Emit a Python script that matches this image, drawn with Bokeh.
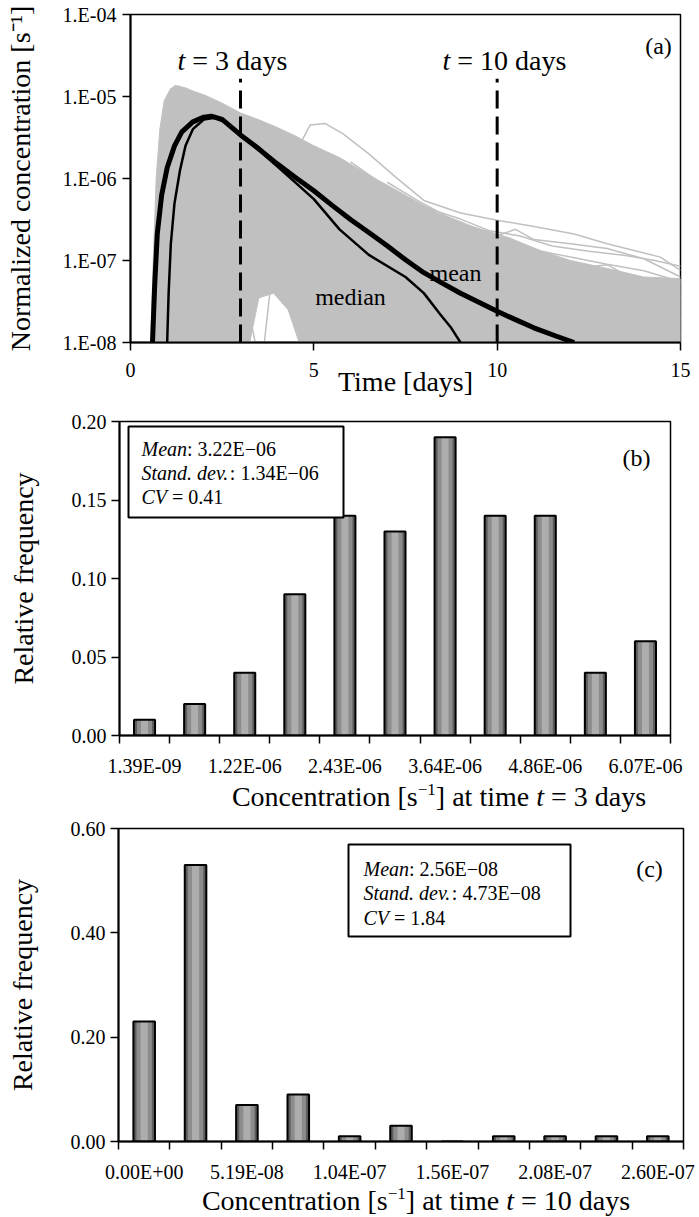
from bokeh.plotting import figure
from bokeh.models import (FixedTicker, CustomJSTickFormatter, PrintfTickFormatter,
                          Label, BoxAnnotation, Div)
from bokeh.embed import file_html
from bokeh.resources import INLINE

# ---------------- data: panel (a) ----------------
marker_days = [3, 10]
marker_top = [1.65e-5, 1.65e-5]
marker_bottom = [1e-8, 1e-8]

mean_t = [0.60, 0.66, 0.73, 0.85, 1.0, 1.2, 1.4, 1.7, 2.0, 2.2, 2.5, 3.0, 3.5, 4.0, 4.5,
          5.0, 5.5, 6.0, 6.5, 7.0, 7.5, 8.0, 8.5, 9.0, 9.5, 10.0, 10.5, 11.0, 11.6, 12.1]
mean_c = [1.0e-8, 5.0e-8, 2.1e-7, 6.3e-7, 1.35e-6, 2.5e-6, 3.7e-6, 4.9e-6, 5.6e-6, 5.75e-6,
          5.25e-6, 3.4e-6, 2.3e-6, 1.51e-6, 1.03e-6, 7.1e-7, 4.7e-7, 3.16e-7, 2.2e-7, 1.51e-7,
          1.02e-7, 7.1e-8, 5.3e-8, 3.98e-8, 3.1e-8, 2.4e-8, 1.9e-8, 1.51e-8, 1.2e-8, 1.0e-8]

median_t = [1.0, 1.04, 1.1, 1.2, 1.35, 1.5, 1.7, 2.0, 2.3, 2.6, 3.0, 3.5, 4.0, 4.5, 5.0,
            5.7, 6.5, 7.5, 8.0, 8.45, 8.75, 9.0]
median_c = [1.0e-8, 4.0e-8, 1.6e-7, 5.0e-7, 1.26e-6, 2.5e-6, 4.0e-6, 5.25e-6, 5.5e-6, 4.8e-6,
            3.4e-6, 2.2e-6, 1.41e-6, 8.9e-7, 5.6e-7, 2.4e-7, 1.17e-7, 6.3e-8, 4.0e-8, 2.2e-8,
            1.5e-8, 1.0e-8]

band_upper_t = [0.55, 0.62, 0.7, 0.8, 0.92, 1.1, 1.3, 1.6, 2.0, 2.5, 3.0, 3.5, 4.0, 4.5, 5.0,
                5.7, 6.5, 7.3, 8.4, 9.2, 10.0, 11.0, 12.0, 13.0, 14.0, 15.0]
band_upper_c = [1.0e-8, 1.0e-7, 1.0e-6, 4.0e-6, 8.9e-6, 1.26e-5, 1.35e-5, 1.2e-5, 1.05e-5,
                8.3e-6, 6.3e-6, 5.2e-6, 4.2e-6, 3.3e-6, 2.5e-6, 1.8e-6, 1.1e-6, 7.0e-7,
                3.7e-7, 2.7e-7, 2.1e-7, 1.4e-7, 1.0e-7, 8.0e-8, 6.3e-8, 6.0e-8]
band_lower_t = [15.0, 4.6, 4.3, 3.9, 3.5, 3.25, 0.55]
band_lower_c = [1.0e-8, 1.0e-8, 2.5e-8, 4.0e-8, 3.5e-8, 1.0e-8, 1.0e-8]

gray_t = [
    [3.65, 3.8, 4.0, 4.3, 4.6, 4.9, 5.3, 5.8, 6.5, 7.2, 8.0, 9.0, 10.0, 11.0, 12.1, 13.0, 14.45, 15.0],
    [5.0, 6.0, 7.0, 8.0, 9.0, 10.0, 10.5, 11.0, 12.0, 13.0, 14.0, 15.0],
    [8, 9, 10, 11, 12, 13, 14, 15],
    [9, 10, 11, 11.5, 12, 13, 14, 15],
    [10, 11, 12, 13, 14, 15],
    [11, 12, 13, 14, 15],
    [1.2, 1.6, 2.0, 2.4, 2.8, 3.1],
    [1.5, 2.0, 2.5, 3.0, 3.4],
    [2.1, 2.2, 2.35, 2.6, 3.0],
    [2.5, 2.7, 2.9, 3.05],
    [4.5, 5.0, 5.5, 6.0, 6.5],
    [0.7, 0.8, 0.9, 1.0, 1.2, 1.5, 2.0, 2.5, 3.0, 3.5, 4.0, 4.5, 5.0, 5.5],
    [6.0, 6.8, 7.5, 8.2, 9.0, 9.8, 10.6, 11.5, 12.5, 13.5, 14.3, 15.0],
    [7.0, 7.8, 8.6, 9.5, 10.3, 11.2, 12.0, 13.0, 14.0, 15.0],
]
gray_c = [
    [1.0e-8, 4.0e-8, 1.6e-7, 7.9e-7, 2.5e-6, 4.5e-6, 4.7e-6, 3.5e-6, 2.0e-6, 1.07e-6, 5.4e-7,
     3.8e-7, 3.1e-7, 2.6e-7, 2.1e-7, 1.6e-7, 1.1e-7, 7.6e-8],
    [2.5e-6, 1.4e-6, 7.9e-7, 4.5e-7, 2.8e-7, 2.0e-7, 2.4e-7, 1.8e-7, 1.6e-7, 1.4e-7, 1.05e-7, 6.3e-8],
    [2.5e-7, 1.6e-7, 1.26e-7, 1.0e-7, 7.9e-8, 8.9e-8, 5.0e-8, 3.5e-8],
    [1.6e-7, 1.0e-7, 7.1e-8, 1.0e-7, 5.0e-8, 4.0e-8, 3.2e-8, 2.5e-8],
    [6.3e-8, 4.5e-8, 3.5e-8, 3.2e-8, 2.5e-8, 2.0e-8],
    [2.5e-8, 2.0e-8, 1.8e-8, 1.4e-8, 1.26e-8],
    [1.0e-5, 5.0e-6, 1.6e-6, 3.2e-7, 5.0e-8, 1.0e-8],
    [7.9e-6, 3.2e-6, 6.3e-7, 7.9e-8, 1.0e-8],
    [1.0e-8, 1.0e-7, 5.0e-7, 1.6e-6, 3.2e-6],
    [6.3e-7, 1.6e-7, 3.2e-8, 1.0e-8],
    [1.6e-7, 6.3e-8, 3.2e-8, 1.6e-8, 1.0e-8],
    [1.0e-8, 3.2e-7, 3.2e-6, 8.9e-6, 1.35e-5, 1.26e-5, 1.0e-5, 7.1e-6, 5.0e-6, 3.2e-6, 1.8e-6,
     1.0e-6, 5.0e-7, 2.5e-7],
    [1.6e-6, 9.0e-7, 6.0e-7, 4.2e-7, 3.2e-7, 2.3e-7, 2.0e-7, 1.5e-7, 1.3e-7, 1.15e-7, 1.0e-7, 8.5e-8],
    [9.0e-7, 5.5e-7, 3.5e-7, 2.4e-7, 1.9e-7, 1.3e-7, 1.1e-7, 9.0e-8, 7.5e-8, 5.5e-8],
]

# ---------------- data: panel (b) ----------------
b_bins = ["1.39E-09", "6.08E-07", "1.22E-06", "1.82E-06", "2.43E-06", "3.03E-06",
          "3.64E-06", "4.25E-06", "4.86E-06", "5.46E-06", "6.07E-06"]
b_freq = [0.01, 0.02, 0.04, 0.09, 0.14, 0.13, 0.19, 0.14, 0.14, 0.04, 0.06]
b_yticks = [0.0, 0.05, 0.10, 0.15, 0.20]

# ---------------- data: panel (c) ----------------
c_bins = ["0.00E+00", "2.60E-08", "5.19E-08", "7.79E-08", "1.04E-07", "1.30E-07",
          "1.56E-07", "1.82E-07", "2.08E-07", "2.34E-07", "2.60E-07"]
c_freq = [0.23, 0.53, 0.07, 0.09, 0.01, 0.03, 0.0, 0.01, 0.01, 0.01, 0.01]
c_yticks = [0.0, 0.20, 0.40, 0.60]

# ---------------- styling helpers ----------------
FONT = "Liberation Serif"
GRAY = "#c0c0c0"
TNR = {' ': 250, '(': 333, ')': 333, '+': 564, ',': 250, '-': 333, '.': 250, ':': 278, '=': 564,
       'C': 667, 'E': 611, 'M': 889, 'N': 722, 'R': 667, 'S': 556, 'T': 611, 'V': 722, '[': 333,
       ']': 333, 'a': 444, 'b': 500, 'c': 444, 'd': 500, 'e': 444, 'f': 333, 'i': 278, 'l': 278,
       'm': 778, 'n': 500, 'o': 500, 'q': 500, 'r': 333, 's': 389, 't': 278, 'u': 500, 'v': 500,
       'y': 500, 'z': 444, '\u2212': 564}
TNRI = {' ': 250, '.': 250, 'M': 833, 'S': 500, 'C': 667, 'V': 611, 'e': 444, 'a': 500,
        'n': 500, 't': 278, 'd': 500, 'v': 444}


def tw(s, size, italic=False):
    tab = TNRI if italic else TNR
    return sum(tab.get(ch, 500) for ch in s) * size / 1000.0


def rich(p, x, y, parts, size, align="left"):
    """parts: list of (text, italic, dy, size_or_None)"""
    total = sum(tw(t, sz or size, it) for t, it, dy, sz in parts)
    off = 0.0 if align == "left" else -total / 2.0
    for t, it, dy, sz in parts:
        s = sz or size
        lead = len(t) - len(t.lstrip(" "))
        off += tw(" " * lead, s, it)
        core = t.strip(" ")
        if core:
            p.add_layout(Label(x=x, y=y, x_offset=off, y_offset=dy, text=core,
                               text_font=FONT, text_font_size=f"{s}px",
                               text_font_style="italic" if it else "normal",
                               text_baseline="middle", text_align="left", text_color="black"))
        off += tw(core, s, it)
        trail = len(t) - len(t.rstrip(" "))
        off += tw(" " * trail, s, it)


def style_axes(p, tick_out=8, label_standoff=8):
    for ax in p.axis:
        ax.axis_line_color = "black"
        ax.axis_line_width = 2
        ax.major_tick_line_color = "black"
        ax.major_tick_line_width = 1.5
        ax.major_tick_out = tick_out
        ax.major_tick_in = 0
        ax.minor_tick_line_color = None
        ax.major_label_text_font = FONT
        ax.major_label_text_font_size = "20px"
        ax.major_label_text_color = "black"
        ax.major_label_standoff = label_standoff
        ax.axis_label_text_font = FONT
        ax.axis_label_text_font_size = "28px"
        ax.axis_label_text_font_style = "normal"
        ax.axis_label_text_color = "black"
    p.grid.visible = False
    p.outline_line_color = "black"
    p.outline_line_width = 1.5
    p.background_fill_color = "white"
    p.border_fill_color = "white"


def title_strip(height, center_x, value_text):
    left = 2 * center_x - 699
    width = 699 - left
    html = (
        f'<div style="margin-left:{left}px; width:{width}px; height:{height}px; '
        f'line-height:{height}px; text-align:center; white-space:nowrap; '
        f'font-family:\'Liberation Serif\'; font-size:28px; color:#000;">'
        f'Concentration [s<span style="font-size:17px; position:relative; top:-11px;">'
        f'\u22121</span>] at time <i>t</i> = {value_text}</div>'
    )
    return Div(text=html, width=699, height=height, margin=0,
               styles={"overflow": "visible", "background": "white", "display": "block"})


# ---------------- panel (a) ----------------
A_L, A_T, A_W, A_H, A_FH = 130, 14, 550, 328, 405


def ax_(px):
    return (px - A_L) / A_W * 15.0


def ay_(py):
    return 10 ** (-4.0 - (py - A_T) / 82.0)


pa = figure(width=699, height=A_FH, x_range=(0, 15), y_range=(1e-8, 1e-4), y_axis_type="log",
            output_backend="svg", toolbar_location=None,
            min_border_left=A_L, min_border_right=699 - A_L - A_W,
            min_border_top=A_T, min_border_bottom=A_FH - A_T - A_H)
pa.patch(band_upper_t + band_lower_t, band_upper_c + band_lower_c,
         fill_color=GRAY, line_color=GRAY, line_width=1)
pa.multi_line(gray_t, gray_c, line_color=GRAY, line_width=1.5)
pa.segment(x0=marker_days, y0=marker_bottom, x1=marker_days, y1=marker_top,
           line_color="black", line_width=3, line_dash="18 8")
pa.line(median_t, median_c, line_color="black", line_width=2.5)
pa.line(mean_t, mean_c, line_color="black", line_width=5)

style_axes(pa, tick_out=8, label_standoff=12)
pa.xaxis.ticker = FixedTicker(ticks=[0, 5, 10, 15])
pa.xaxis.axis_label = "Time [days]"
pa.xaxis.axis_label_standoff = -14
pa.yaxis.ticker = FixedTicker(ticks=[1e-8, 1e-7, 1e-6, 1e-5, 1e-4])
pa.yaxis.formatter = CustomJSTickFormatter(
    code="const e = Math.round(-Math.log10(tick)); return '1.E-' + (e < 10 ? '0' : '') + e;")
pa.yaxis.axis_label = "Normalized concentration [s\u207b\u00b9]"
pa.yaxis.axis_label_standoff = 24
pa.yaxis.major_label_standoff = 6

rich(pa, ax_(177), ay_(60), [("t", True, 0, None), (" = 3 days", False, 0, None)], 28)
rich(pa, ax_(442), ay_(60), [("t", True, 0, None), (" = 10 days", False, 0, None)], 28)
rich(pa, ax_(658), ay_(45), [("(a)", False, 0, None)], 24, align="center")
rich(pa, ax_(455), ay_(272), [("mean", False, 0, None)], 24, align="center")
rich(pa, ax_(350), ay_(296), [("median", False, 0, None)], 24, align="center")


# ---------------- histogram helper ----------------
def histogram(freq, bins, yticks, fh, top, bottom, left, fw, ymax):
    p = figure(width=699, height=fh, x_range=(-0.5, 10.5), y_range=(0, ymax),
               output_backend="svg", toolbar_location=None,
               min_border_left=left, min_border_right=699 - left - fw,
               min_border_top=top, min_border_bottom=bottom)
    xs = list(range(len(freq)))
    p.vbar(x=xs, top=freq, width=0.42, fill_color="#5c5c5c", line_color=None)
    p.vbar(x=xs, top=freq, width=0.30, fill_color="#8c8c8c", line_color=None)
    p.vbar(x=xs, top=freq, width=0.14, fill_color="#adadad", line_color=None)
    p.vbar(x=xs, top=freq, width=0.42, fill_alpha=0, line_color="black", line_width=2)
    style_axes(p, tick_out=8, label_standoff=11)
    p.xaxis.ticker = FixedTicker(ticks=xs[::2], minor_ticks=[i - 0.5 for i in range(len(freq) + 1)])
    p.xaxis.major_label_overrides = {i: bins[i] for i in xs[::2]}
    p.xaxis.major_tick_line_color = None
    p.xaxis.minor_tick_line_color = "black"
    p.xaxis.minor_tick_line_width = 1.5
    p.xaxis.minor_tick_out = 8
    p.xaxis.minor_tick_in = 0
    p.yaxis.ticker = FixedTicker(ticks=yticks)
    p.yaxis.formatter = PrintfTickFormatter(format="%.2f")
    p.yaxis.major_label_standoff = 5
    p.yaxis.axis_label = "Relative frequency"
    p.yaxis.axis_label_standoff = 30
    return p


# ---------------- panel (b) ----------------
B_L, B_T, B_W, B_H, B_Y0, B_FH = 119, 421, 551, 314, 405, 375
pb = histogram(b_freq, b_bins, b_yticks, B_FH, B_T - B_Y0, B_FH - (B_T - B_Y0) - B_H, B_L, B_W, 0.20)


def bx_(px):
    return -0.5 + (px - B_L) / B_W * 11.0


def by_(py):
    return (B_T + B_H - py) / B_H * 0.20


pb.add_layout(BoxAnnotation(left=bx_(128), right=bx_(343), top=by_(426), bottom=by_(517),
                            fill_color="white", fill_alpha=1.0, line_color="black",
                            line_width=2, line_alpha=1.0))
rich(pb, bx_(141), by_(448), [("Mean", True, 0, None), (": 3.22E\u221206", False, 0, None)], 20)
rich(pb, bx_(141), by_(472), [("Stand. dev.", True, 0, None), (": 1.34E\u221206", False, 0, None)], 20)
rich(pb, bx_(141), by_(496), [("CV", True, 0, None), (" = 0.41", False, 0, None)], 20)
rich(pb, bx_(636), by_(457), [("(b)", False, 0, None)], 24, align="center")

SB_H = 34
sb = title_strip(SB_H, 439, "3 days")

# ---------------- panel (c) ----------------
C_Y0 = B_Y0 + B_FH + SB_H
C_L, C_T, C_W, C_H, C_FH = 118, 828, 565, 313, 371
pc = histogram(c_freq, c_bins, c_yticks, C_FH, C_T - C_Y0, C_FH - (C_T - C_Y0) - C_H, C_L, C_W, 0.60)


def cx_(px):
    return -0.5 + (px - C_L) / C_W * 11.0


def cy_(py):
    return (C_T + C_H - py) / C_H * 0.60


pc.add_layout(BoxAnnotation(left=cx_(348), right=cx_(570), top=cy_(844), bottom=cy_(936),
                            fill_color="white", fill_alpha=1.0, line_color="black",
                            line_width=2, line_alpha=1.0))
rich(pc, cx_(363), cy_(868), [("Mean", True, 0, None), (": 2.56E\u221208", False, 0, None)], 20)
rich(pc, cx_(363), cy_(892), [("Stand. dev.", True, 0, None), (": 4.73E\u221208", False, 0, None)], 20)
rich(pc, cx_(363), cy_(917), [("CV", True, 0, None), (" = 1.84", False, 0, None)], 20)
rich(pc, cx_(649), cy_(868), [("(c)", False, 0, None)], 24, align="center")

SC_H = 1217 - (C_Y0 + C_FH)
sc = title_strip(SC_H, 416, "10 days")

# separate roots, stacked top to bottom (independent frames, no cross-plot alignment)
open("out.html", "w").write(file_html([pa, pb, sb, pc, sc], INLINE))
